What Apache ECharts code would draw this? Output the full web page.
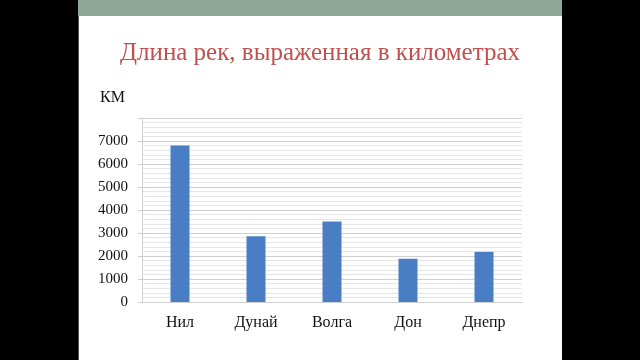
<!DOCTYPE html>
<html><head><meta charset="utf-8">
<script src="https://cdn.jsdelivr.net/npm/echarts@6/dist/echarts.min.js"></script>
<style>html,body{margin:0;padding:0;background:#000;}#c{width:640px;height:360px;}</style>
</head><body><div id="c"></div>
<script>
var categories = ['Нил', 'Дунай', 'Волга', 'Дон', 'Днепр'];
var lengths = [6800, 2860, 3500, 1880, 2180];
var titleText = 'Длина рек, выраженная в километрах';
var unitText = 'КМ';

var chart = echarts.init(document.getElementById('c'));
var serif = '"Liberation Serif", "DejaVu Serif", serif';
chart.setOption({
  backgroundColor: '#000',
  animation: false,
  graphic: [
    {type: 'rect', shape: {x: 78, y: 0, width: 484, height: 360}, style: {fill: '#fff'}, z: -10},
    {type: 'rect', shape: {x: 78, y: 0, width: 1, height: 360}, style: {fill: '#555'}, z: -9},
    {type: 'rect', shape: {x: 78, y: 0, width: 484, height: 16}, style: {fill: '#8FA797'}, z: -9},
    {type: 'text', left: 'center', top: 41, style: {text: titleText, fill: '#C0504D', font: '25px ' + serif}},
    {type: 'text', left: 100, top: 90, style: {text: unitText, fill: '#111', font: '16px ' + serif}}
  ],
  grid: {left: 142, right: 118, top: 118, bottom: 58, containLabel: false},
  xAxis: {
    type: 'category', data: categories,
    axisLine: {show: true, lineStyle: {color: '#d0d0d0'}},
    axisTick: {show: false},
    axisLabel: {color: '#111', fontFamily: serif, fontSize: 16, margin: 13}
  },
  yAxis: {
    type: 'value', min: 0, max: 8000, interval: 1000,
    axisLine: {show: true, lineStyle: {color: '#d0d0d0'}},
    axisTick: {show: true, length: 4, lineStyle: {color: '#d0d0d0'}},
    axisLabel: {color: '#111', fontFamily: serif, fontSize: 15, margin: 14,
      formatter: function (v) { return v === 8000 ? '' : v; }},
    splitLine: {show: true, lineStyle: {color: '#cfcfcf'}},
    minorTick: {show: false, splitNumber: 5},
    minorSplitLine: {show: true, lineStyle: {color: '#e6e6e6'}}
  },
  series: [{
    type: 'bar', data: lengths, barWidth: 19,
    itemStyle: {color: '#4A7EC4'}
  }]
});
</script></body></html>
